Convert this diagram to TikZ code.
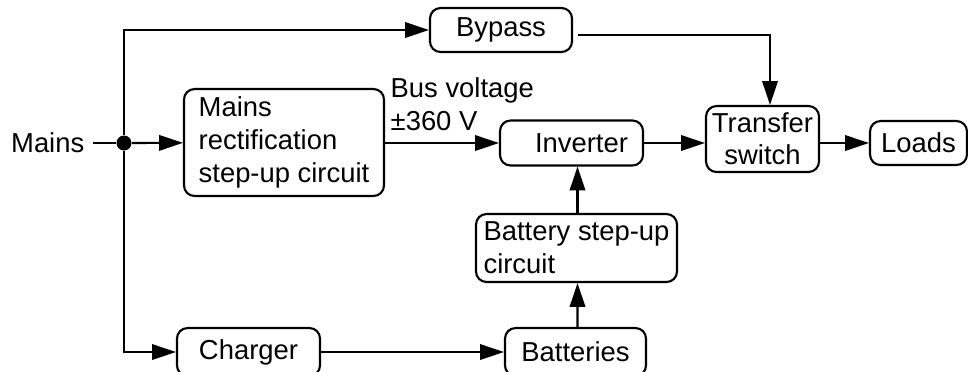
\documentclass[tikz,border=0pt]{standalone}
\usepackage{fontspec}
\setmainfont{Liberation Sans}
\usetikzlibrary{arrows.meta, positioning, calc}
\tikzset{
  box/.style={
    rectangle, rounded corners=3pt,
    draw=black, line width=0.6pt,
    font=\fontsize{7.8}{9.2}\selectfont,
    inner sep=1pt, align=center
  },
  arr/.style={
    -{Triangle[length=6.8pt, width=4.4pt]}, line width=0.6pt
  },
  wire/.style={line width=0.6pt},
  lbl/.style={font=\fontsize{7.8}{9.4}\selectfont, inner sep=0pt},
  junction/.style={circle, fill=black, minimum size=0.15cm, inner sep=0pt}
}

\begin{document}
\begin{tikzpicture}

  \useasboundingbox (0,0) rectangle (9.68,3.71);

  % input side
  \node[lbl, anchor=east, inner xsep=0.08cm] (mains) at (0.93,2.28) {Mains};
  \node[junction] (jn) at (1.24,2.28) {};

  \node[box, minimum width=1.42cm, minimum height=0.44cm] (bypass) at (5.01,3.41) {Bypass};
  \node[box, minimum width=2.00cm, minimum height=1.07cm, align=left,
        font=\fontsize{7.8}{9.4}\selectfont] (rect) at (2.84,2.285)
        {Mains\\rectification\\step-up circuit};
  \node[box, minimum width=1.43cm, minimum height=0.45cm] (inv) at (5.715,2.28) {\hspace{0.2cm}Inverter};
  \node[box, minimum width=1.13cm, minimum height=0.66cm] (xfer) at (7.625,2.32) {Transfer\\switch};
  \node[box, minimum width=0.97cm, minimum height=0.44cm] (loads) at (9.185,2.28) {Loads};

  % battery path
  \node[box, minimum width=2.01cm, minimum height=0.68cm, align=left,
        font=\fontsize{7.8}{9.4}\selectfont] (batup) at (5.765,1.23)
        {Battery step-up\\circuit};
  \node[box, minimum width=1.41cm, minimum height=0.48cm] (bat) at (5.755,0.19) {Batteries};
  \node[box, minimum width=1.43cm, minimum height=0.48cm] (chg) at (2.485,0.19) {Charger};

  \node[lbl, anchor=west, align=left] (bus) at (3.90,2.67) {Bus voltage\\±360 V};

  % main path
  \draw[wire] (mains) -- (jn);
  \draw[arr] (jn) -- (rect);
  \draw[arr] (rect.east |- jn) -- (inv.west |- jn);
  \draw[arr] (inv) -- (inv -| xfer.west);
  \draw[arr] (xfer.east |- loads) -- (loads);

  % bypass path
  \draw[arr] (jn) |- (bypass);
  \draw[arr] ([shift={(0.05,-0.05)}]bypass.east) -| ([xshift=0.075cm]xfer.north);

  % charging path
  \draw[arr] (jn) |- (chg);
  \draw[arr] (chg) -- (bat);
  \draw[arr] ([xshift=0.02cm]bat.north) -- ([xshift=0.01cm]batup.south);
  \draw[arr] ([xshift=0.01cm]batup.north) -- ([xshift=0.01cm]batup.north |- inv.south);

\end{tikzpicture}
\end{document}
